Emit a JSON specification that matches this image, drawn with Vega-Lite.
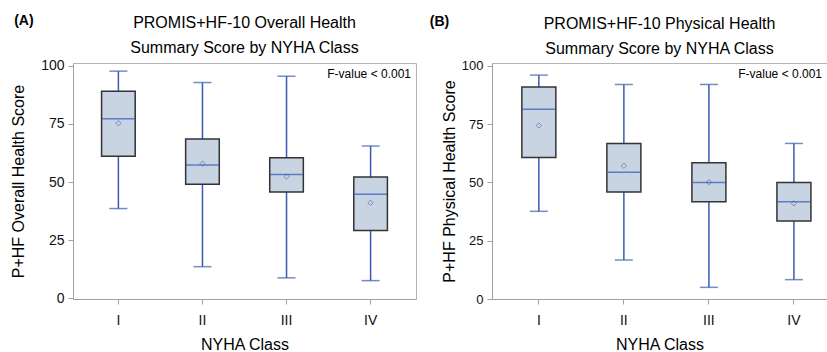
{
  "$schema": "https://vega.github.io/schema/vega-lite/v6.json",
  "padding": {"left": 10, "top": 14, "right": 0, "bottom": 0},
  "background": "white",
  "datasets": {
    "overall": [
      {"cls": "I", "min": 38.6, "q1": 61.1, "median": 77.2, "q3": 89.1, "max": 97.7, "mean": 75.3},
      {"cls": "II", "min": 13.6, "q1": 49.0, "median": 57.3, "q3": 68.5, "max": 92.8, "mean": 57.9},
      {"cls": "III", "min": 8.8, "q1": 45.7, "median": 53.2, "q3": 60.5, "max": 95.5, "mean": 52.4},
      {"cls": "IV", "min": 7.6, "q1": 29.2, "median": 44.7, "q3": 52.2, "max": 65.5, "mean": 41.1}
    ],
    "physical": [
      {"cls": "I", "min": 37.6, "q1": 60.7, "median": 81.4, "q3": 90.9, "max": 96.0, "mean": 74.4},
      {"cls": "II", "min": 16.7, "q1": 45.9, "median": 54.3, "q3": 66.7, "max": 92.0, "mean": 57.1},
      {"cls": "III", "min": 5.0, "q1": 41.7, "median": 50.0, "q3": 58.4, "max": 92.0, "mean": 50.1},
      {"cls": "IV", "min": 8.3, "q1": 33.4, "median": 41.7, "q3": 50.0, "max": 66.7, "mean": 41.0}
    ],
    "noteA": [{"label": "F-value < 0.001", "y": 96.5}],
    "noteB": [{"label": "F-value < 0.001", "y": 96.5}]
  },
  "spacing": 12,
  "hconcat": [
    {
      "title": {"text": "(A)", "anchor": "start", "frame": "bounds", "fontSize": 14, "fontWeight": "bold", "offset": -14, "dx": 4, "color": "#000"},
      "hconcat": [
        {
          "title": {"text": ["PROMIS+HF-10 Overall Health", "Summary Score by NYHA Class"], "fontSize": 16, "fontWeight": "normal", "lineHeight": 25, "offset": 3, "color": "#000"},
          "width": 343,
          "height": 236,
          "data": {"name": "overall"},
          "encoding": {
            "x": {"field": "cls", "type": "nominal", "sort": ["I", "II", "III", "IV"], "scale": {"paddingInner": 0.6, "paddingOuter": 0.34}, "axis": {"labelAngle": 0, "title": "NYHA Class"}}
          },
          "layer": [
            {"mark": {"type": "rule", "color": "#3a5bb0", "strokeWidth": 1.5},
             "encoding": {"y": {"field": "min", "type": "quantitative", "scale": {"domain": [-0.3, 101.2], "nice": false, "zero": false},
                                "axis": {"title": "P+HF Overall Health Score", "values": [0, 25, 50, 75, 100]}},
                          "y2": {"field": "max"}}},
            {"mark": {"type": "tick", "color": "#3a5bb0", "size": 18, "thickness": 1.5}, "encoding": {"y": {"field": "min", "type": "quantitative"}}},
            {"mark": {"type": "tick", "color": "#3a5bb0", "size": 18, "thickness": 1.5}, "encoding": {"y": {"field": "max", "type": "quantitative"}}},
            {"mark": {"type": "bar", "fill": "#c9d4e3", "stroke": "#333333", "strokeWidth": 1.5, "width": {"band": 1}},
             "encoding": {"y": {"field": "q1", "type": "quantitative"}, "y2": {"field": "q3"}}},
            {"mark": {"type": "tick", "color": "#2e55b8", "size": 33, "thickness": 1.5}, "encoding": {"y": {"field": "median", "type": "quantitative"}}},
            {"mark": {"type": "point", "shape": "diamond", "size": 28, "filled": false, "color": "#4a6cc0", "strokeWidth": 1}, "encoding": {"y": {"field": "mean", "type": "quantitative"}}},
            {"data": {"name": "noteA"}, "mark": {"type": "text", "align": "right", "baseline": "middle", "fontSize": 12, "dx": -5, "color": "#000"},
             "encoding": {"x": {"value": "width"}, "y": {"field": "y", "type": "quantitative"}, "text": {"field": "label"}}}
          ]
        }
      ]
    },
    {
      "title": {"text": "(B)", "anchor": "start", "frame": "bounds", "fontSize": 14, "fontWeight": "bold", "offset": -14, "dx": -11, "color": "#000"},
      "hconcat": [
        {
          "title": {"text": ["PROMIS+HF-10 Physical Health", "Summary Score by NYHA Class"], "fontSize": 16, "fontWeight": "normal", "lineHeight": 25, "offset": 3, "color": "#000"},
          "width": 335,
          "height": 236,
          "data": {"name": "physical"},
          "encoding": {
            "x": {"field": "cls", "type": "nominal", "sort": ["I", "II", "III", "IV"], "scale": {"paddingInner": 0.6, "paddingOuter": 0.27, "align": 0.65}, "axis": {"labelAngle": 0, "title": "NYHA Class"}}
          },
          "layer": [
            {"mark": {"type": "rule", "color": "#3a5bb0", "strokeWidth": 1.5},
             "encoding": {"y": {"field": "min", "type": "quantitative", "scale": {"domain": [0, 101.2], "nice": false, "zero": false},
                                "axis": {"title": "P+HF Physical Health Score", "values": [0, 25, 50, 75, 100], "labelFontSize": 13, "titlePadding": 4}},
                          "y2": {"field": "max"}}},
            {"mark": {"type": "tick", "color": "#3a5bb0", "size": 18, "thickness": 1.5}, "encoding": {"y": {"field": "min", "type": "quantitative"}}},
            {"mark": {"type": "tick", "color": "#3a5bb0", "size": 18, "thickness": 1.5}, "encoding": {"y": {"field": "max", "type": "quantitative"}}},
            {"mark": {"type": "bar", "fill": "#c9d4e3", "stroke": "#333333", "strokeWidth": 1.5, "width": {"band": 1}},
             "encoding": {"y": {"field": "q1", "type": "quantitative"}, "y2": {"field": "q3"}}},
            {"mark": {"type": "tick", "color": "#2e55b8", "size": 33, "thickness": 1.5}, "encoding": {"y": {"field": "median", "type": "quantitative"}}},
            {"mark": {"type": "point", "shape": "diamond", "size": 28, "filled": false, "color": "#4a6cc0", "strokeWidth": 1}, "encoding": {"y": {"field": "mean", "type": "quantitative"}}},
            {"data": {"name": "noteB"}, "mark": {"type": "text", "align": "right", "baseline": "middle", "fontSize": 12, "dx": -5, "color": "#000"},
             "encoding": {"x": {"value": "width"}, "y": {"field": "y", "type": "quantitative"}, "text": {"field": "label"}}}
          ]
        }
      ]
    }
  ],
  "config": {
    "font": "Liberation Sans",
    "view": {"stroke": "#b4b4b4", "strokeWidth": 1},
    "axis": {"grid": false, "domainColor": "#a0a0a0", "tickColor": "#a0a0a0", "tickSize": 5, "labelFontSize": 14, "labelColor": "#111", "titleFontSize": 16, "titleFontWeight": "normal", "titleColor": "#000"},
    "axisY": {"labelPadding": 4, "titlePadding": 14},
    "axisX": {"labelPadding": 9, "titlePadding": 9}
  }
}
